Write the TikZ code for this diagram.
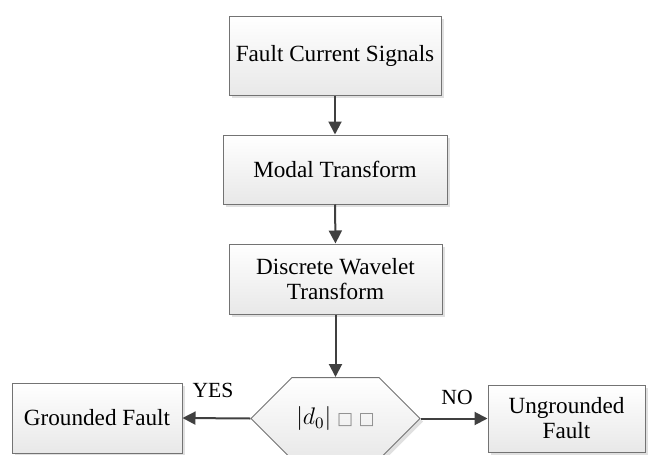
\documentclass[tikz,border=0pt]{standalone}
\usepackage{fontspec}
\setmainfont{Liberation Serif}
\newfontfamily\symfont{DejaVu Sans}
\usetikzlibrary{arrows.meta,shapes.symbols,shadows}

\begin{document}
\begin{tikzpicture}[x=0.5pt, y=-0.5pt, every node/.style={font=\fontsize{11.6}{12.5}\selectfont}, >={Triangle[length=6.5pt,width=6.5pt]},
	blk/.style={draw=black!55, line width=0.5pt, top color=white, bottom color=black!9, drop shadow={shadow xshift=1.5pt, shadow yshift=-1.5pt, fill=black!12, opacity=1}, align=center, inner sep=0pt},
	hexa/.style={blk, shape=signal, signal to=west and east, signal pointer angle=90},
	lbl/.style={font=\fontsize{10.8}{12}\selectfont, inner sep=0pt},
	link/.style={->, draw=black!75, line width=1pt}]
	\useasboundingbox (0,0) rectangle (648,455);
	\node[blk, minimum width=106pt, minimum height=39.5pt] (sig) at (335,55.5) {Fault Current Signals};
	\node[blk, minimum width=112pt, minimum height=34.5pt] (modal) at (335,169.5) {Modal Transform};
	\node[blk, minimum width=106.5pt, minimum height=35pt] (dwt) at (335.5,279) {Discrete Wavelet\\Transform};
	\node[hexa, minimum width=84.5pt, minimum height=41pt] (test) at (335.5,418.5) {$|d_0|$ {\symfont\fontsize{8.5}{9}\selectfont\color{black!45}□\ □}};
	\node[blk, minimum width=85pt, minimum height=35pt] (gnd) at (97,418) {Grounded Fault};
	\node[blk, minimum width=78.5pt, minimum height=33.5pt] (ugnd) at (566.5,418.5) {Ungrounded\\Fault};
	\node[lbl] (yes) at (213,390) {YES};
	\node[lbl] (no) at (457,397) {NO};
	\foreach \a/\b in {sig.south/modal.north, modal.south/dwt.north, dwt.south/test.north, test.west/gnd.east, test.east/ugnd.west} {\draw[link] (\a) -- (\b);}
\end{tikzpicture}
\end{document}
